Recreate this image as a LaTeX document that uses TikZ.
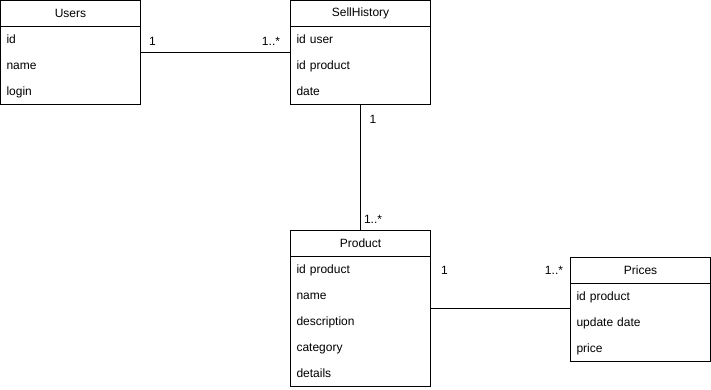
\documentclass[tikz,border=0pt]{standalone}
\usepackage{fontspec}
\setmainfont{Liberation Sans}
\usetikzlibrary{positioning,fit}

\begin{document}
\begin{tikzpicture}[x=1pt,y=-1pt,line width=1pt,font=\fontsize{12}{14}\selectfont]
  \tikzstyle{title}=[draw,minimum width=140pt,minimum height=26pt,inner sep=0pt,outer sep=0pt,anchor=north west]
  \tikzstyle{field}=[minimum height=26pt,text width=128pt,text height=11pt,text depth=3pt,inner xsep=6pt,inner ysep=0pt,outer sep=0pt,align=left]
  \tikzstyle{classbox}=[draw,inner sep=0pt,outer sep=0pt]
  \tikzstyle{mult}=[inner sep=0pt]

  \useasboundingbox (0,0) rectangle (711,390);

  \node[title] (Users) at (0.5,0.5) {Users};
  \node[field] (U1) [below=0pt of Users] {id};
  \node[field] (U2) [below=0pt of U1]    {name};
  \node[field] (U3) [below=0pt of U2]    {login};
  \node[classbox,fit=(Users)(U3)] (UsersBox) {};

  \node[title] (Sell) at (290.5,0.5) {SellHistory};
  \node[field] (S1) [below=0pt of Sell] {id user};
  \node[field] (S2) [below=0pt of S1]   {id product};
  \node[field] (S3) [below=0pt of S2]   {date};
  \node[classbox,fit=(Sell)(S3)] (SellBox) {};

  \node[title] (Product) at (290.5,230.5) {Product};
  \node[field] (P1) [below=0pt of Product] {id product};
  \node[field] (P2) [below=0pt of P1]      {name};
  \node[field] (P3) [below=0pt of P2]      {description};
  \node[field] (P4) [below=0pt of P3]      {category};
  \node[field] (P5) [below=0pt of P4]      {details};
  \node[classbox,fit=(Product)(P5)] (ProductBox) {};

  \node[title] (Prices) at (570.5,257.5) {Prices};
  \node[field] (R1) [below=0pt of Prices] {id product};
  \node[field] (R2) [below=0pt of R1]     {update date};
  \node[field] (R3) [below=0pt of R2]     {price};
  \node[classbox,fit=(Prices)(R3)] (PricesBox) {};

  \draw (UsersBox) -- (SellBox)
    node[mult,pos=0,anchor=west,xshift=8pt,yshift=11pt] {1}
    node[mult,pos=1,anchor=east,xshift=-10pt,yshift=11pt] {1..*};
  \draw (SellBox) -- (ProductBox)
    node[mult,pos=0,anchor=west,xshift=8.5pt,yshift=-15pt] {1}
    node[mult,pos=1,anchor=west,xshift=3pt,yshift=11pt] {1..*};
  \draw (ProductBox.east) -- (ProductBox.east -| PricesBox.west)
    node[mult,pos=0,anchor=west,xshift=10pt,yshift=38.5pt] {1}
    node[mult,pos=1,anchor=east,xshift=-7pt,yshift=38.5pt] {1..*};
\end{tikzpicture}
\end{document}
